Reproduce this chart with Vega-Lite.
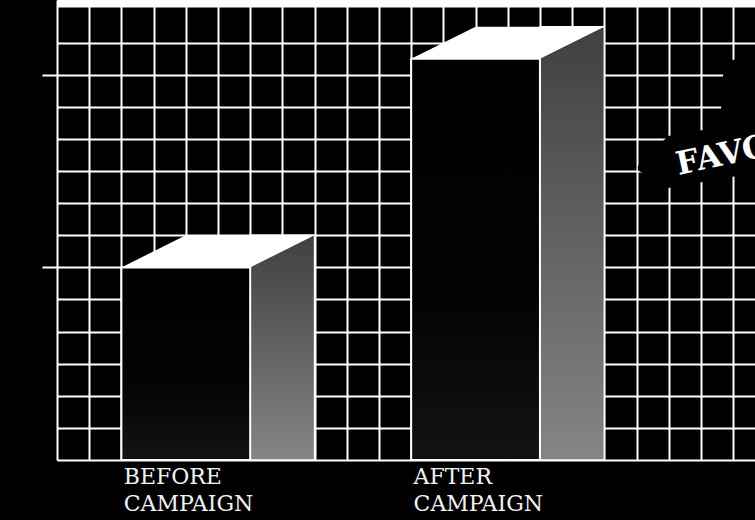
{
  "$schema": "https://vega.github.io/schema/vega-lite/v6.json",
  "width": 698,
  "height": 460,
  "autosize": {"type": "none"},
  "padding": {"left": 57, "top": 0, "right": 0, "bottom": 60},
  "background": "#000000",
  "config": {"view": {"stroke": null}},
  "datasets": {
    "bars": [
      {"stage": "BEFORE CAMPAIGN", "value": 6},
      {"stage": "AFTER CAMPAIGN", "value": 12.5}
    ],
    "banner": [
      {"u": 18.04, "top": 9.16, "bot": 9.03},
      {"u": 18.98, "top": 10.09, "bot": 8.47},
      {"u": 20.59, "top": 10.37, "bot": 8.75},
      {"u": 20.71, "top": 12.4, "bot": 8.79},
      {"u": 21.68, "top": 12.62, "bot": 8.91}
    ],
    "note": [{"text": "FAVORABLE"}]
  },
  "layer": [
    {
      "layer": [
        {
          "data": {"name": "banner"},
          "mark": {"type": "area", "color": "#000000", "interpolate": "linear", "opacity": 1},
          "encoding": {
            "x": {
              "field": "u", "type": "quantitative",
              "scale": {"domain": [0, 21.677], "nice": false, "zero": false},
              "axis": {
                "orient": "top", "values": [0,1,2,3,4,5,6,7,8,9,10,11,12,13,14,15,16,17,18,19,20,21],
                "tickCount": 40,
                "grid": true, "gridColor": "#ffffff", "gridWidth": 2, "gridOpacity": 1,
                "ticks": false, "tickSize": 0, "labels": false,
                "domain": true, "domainColor": "#ffffff", "domainWidth": 14, "domainOpacity": 1,
                "title": null
              }
            },
            "y": {
              "field": "top", "type": "quantitative",
              "scale": {"domain": [0, 14.33], "nice": false, "zero": false},
              "axis": {
                "orient": "right", "values": [0,1,2,3,4,5,6,7,8,9,10,11,12,13],
                "tickCount": 40,
                "grid": true, "gridColor": "#ffffff", "gridWidth": 2, "gridOpacity": 1,
                "ticks": false, "tickSize": 0, "labels": false, "domain": false, "title": null
              }
            },
            "y2": {"field": "bot"}
          }
        },
        {
          "data": {"name": "note"},
          "mark": {
            "type": "text", "font": "DejaVu Serif", "fontWeight": "bold", "fontSize": 32,
            "color": "#ffffff", "angle": 348, "align": "left", "baseline": "alphabetic"
          },
          "encoding": {
            "x": {"datum": 19.3, "type": "quantitative", "scale": {"domain": [0, 21.677], "nice": false, "zero": false}},
            "y": {"datum": 8.88, "type": "quantitative", "scale": {"domain": [0, 14.33], "nice": false, "zero": false}},
            "text": {"field": "text"}
          }
        }
      ]
    },
    {
      "data": {"name": "bars"},
      "encoding": {
        "x": {
          "field": "stage", "type": "nominal", "sort": null,
          "scale": {"type": "band", "paddingInner": 0.5556, "paddingOuter": 0.4822, "align": 0.2304},
          "axis": {
            "orient": "bottom", "ticks": false, "tickSize": 0, "domain": false, "grid": false,
            "title": null, "labelExpr": "split(datum.label, ' ')", "labelAlign": "left",
            "labelBaseline": "top", "labelPadding": 6, "labelFont": "DejaVu Serif", "labelFontSize": 22,
            "labelColor": "#f2f2f2", "labelLineHeight": 27, "labelOffset": -62, "labelAngle": 0,
            "labelOverlap": false, "labelFlush": false, "labelBound": false
          }
        },
        "y": {
          "field": "value", "type": "quantitative",
          "scale": {"domain": [0, 14.33], "nice": false, "zero": false},
          "axis": {
            "orient": "left", "values": [6, 12], "ticks": true, "tickSize": 15, "tickWidth": 2,
            "tickColor": "#ffffff", "labels": false, "domain": false, "grid": false, "title": null
          }
        }
      },
      "layer": [
        {
          "mark": {
            "type": "bar", "width": 64.4, "xOffset": 96.6, "yOffset": -32.1,
            "fill": {"gradient": "linear", "x1": 0, "y1": 0, "x2": 0, "y2": 1,
              "stops": [{"offset": 0, "color": "#404040"}, {"offset": 1, "color": "#858585"}]},
            "stroke": "#ffffff", "strokeWidth": 1.5
          },
          "encoding": {"y2": {"datum": 0}}
        },
        {
          "mark": {
            "type": "bar", "width": 128.8,
            "fill": {"gradient": "linear", "x1": 0, "y1": 0, "x2": 0, "y2": 1,
              "stops": [{"offset": 0, "color": "#000000"}, {"offset": 0.6, "color": "#030303"}, {"offset": 1, "color": "#131313"}]},
            "stroke": "#ffffff", "strokeWidth": 2
          },
          "encoding": {"y2": {"datum": 0}}
        },
        {
          "mark": {
            "type": "point", "shape": "M-1,0L1,0L2,-0.4984L0,-0.4984Z", "size": 16589,
            "filled": true, "color": "#ffffff", "opacity": 1, "strokeWidth": 0
          }
        }
      ]
    }
  ],
  "resolve": {
    "scale": {"x": "independent"},
    "axis": {"x": "independent", "y": "independent"}
  }
}
